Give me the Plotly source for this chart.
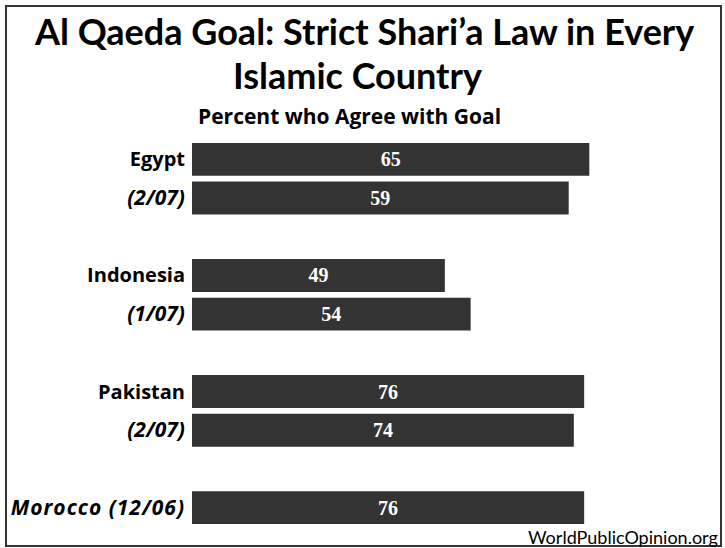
import plotly.graph_objects as go

# ---- data ----
groups = [
    ["Egypt", "(2/07)"],
    ["Indonesia", "(1/07)"],
    ["Pakistan", "(2/07)"],
    ["Morocco (12/06)"],
]
bar_lengths = [77, 73, 49, 54, 76, 74, 76]      # bar extents as drawn in the reference
printed_values = [65, 59, 49, 54, 76, 74, 76]   # numbers printed on the bars
title_line1 = "Al Qaeda Goal: Strict Shari\u2019a Law in Every"
title_line2 = "Islamic Country"
subtitle = "Percent who Agree with Goal"
source = "WorldPublicOpinion.org"

# ---- layout helpers ----
W, H = 725, 548
PLOT_L, PLOT_R, PLOT_T, PLOT_B = 192, 708, 140, 527


def px_x(px):
    return (px - PLOT_L) / (PLOT_R - PLOT_L)


def px_y(py):
    return (PLOT_B - py) / (PLOT_B - PLOT_T)


labels, slots = [], []
pos = 0
for g in groups:
    for lab in g:
        labels.append(lab)
        slots.append(pos)
        pos += 1
    pos += 1  # empty slot between groups

ticktext = []
for lab in labels:
    if "(" in lab:
        spacing = "letter-spacing:1px;" if " " in lab else ""
        ticktext.append(
            f'<span style="font-size:21px;{spacing}"><b><i>{lab}</i></b></span>'
        )
    else:
        ticktext.append(f"<b>{lab}</b>")

fig = go.Figure(
    go.Bar(
        x=bar_lengths,
        y=slots,
        orientation="h",
        width=0.85,
        marker=dict(color="#333333", line=dict(width=0)),
        text=[f"<b>{v}</b>" for v in printed_values],
        textposition="inside",
        insidetextanchor="middle",
        textangle=0,
        textfont=dict(family="Liberation Serif", size=20, color="white"),
        hoverinfo="skip",
    )
)

fig.update_layout(
    width=W,
    height=H,
    margin=dict(l=PLOT_L, r=W - PLOT_R, t=PLOT_T, b=H - PLOT_B, autoexpand=False),
    paper_bgcolor="white",
    plot_bgcolor="white",
    showlegend=False,
    xaxis=dict(range=[0, 100], visible=False, fixedrange=True),
    yaxis=dict(
        range=[9.5, -0.5],
        tickvals=slots,
        ticktext=ticktext,
        tickfont=dict(family="Open Sans", size=20, color="black"),
        ticks="",
        showgrid=False,
        zeroline=False,
        showline=False,
        automargin=False,
        ticklabelstandoff=6,
        fixedrange=True,
    ),
)

annos = [
    dict(text=f"<b>{title_line1}</b>", x=px_x(364), y=px_y(31), size=36, fam="Lato"),
    dict(text=f"<b>{title_line2}</b>", x=px_x(357), y=px_y(75), size=36, fam="Lato"),
    dict(text=f"<b>{subtitle}</b>", x=px_x(349), y=px_y(116), size=21, fam="Open Sans"),
]
for a in annos:
    fig.add_annotation(
        text=a["text"], x=a["x"], y=a["y"], xref="paper", yref="paper",
        xanchor="center", yanchor="middle", showarrow=False,
        font=dict(family=a["fam"], size=a["size"], color="black"),
    )

fig.add_annotation(
    text=source, x=px_x(720), y=px_y(537), xref="paper", yref="paper",
    xanchor="right", yanchor="middle", showarrow=False,
    font=dict(family="Lato", size=18, color="black"),
)

fig.add_shape(
    type="rect", xref="paper", yref="paper",
    x0=px_x(6), x1=px_x(721), y0=px_y(546), y1=px_y(6),
    line=dict(color="#333333", width=2), fillcolor="rgba(0,0,0,0)",
    layer="above",
)

fig.write_html(
    "out.html",
    config={"displayModeBar": False},
    post_script="document.body.style.margin='0px';document.body.style.overflow='hidden';",
)
